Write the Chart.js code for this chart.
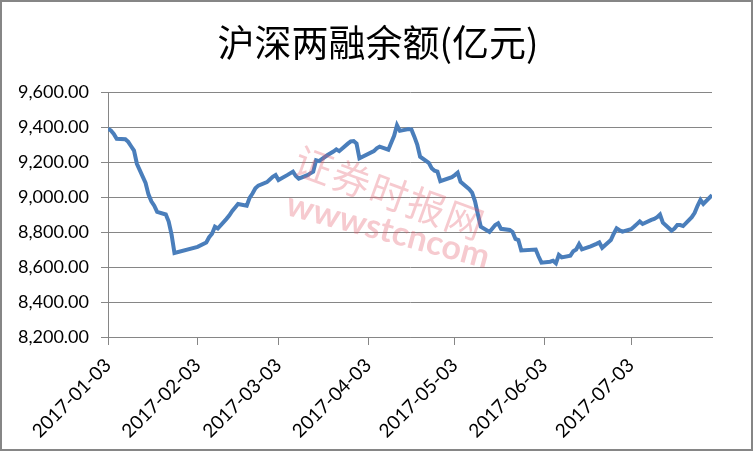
<!DOCTYPE html>
<html>
<head>
<meta charset="utf-8">
<script src="https://cdn.jsdelivr.net/npm/chart.js@4/dist/chart.umd.min.js"></script>
<style>
  body { margin: 0; background: #fff; }
  canvas { display: block; }
</style>
</head>
<body>
<canvas id="chart" width="753" height="451"></canvas>
<script>
var title_text = "沪深两融余额(亿元)";

// trading days and balance (亿元)
var dates = [
  "2017-01-03","2017-01-04","2017-01-05","2017-01-06","2017-01-09","2017-01-10","2017-01-11","2017-01-12","2017-01-13",
  "2017-01-16","2017-01-17","2017-01-18","2017-01-19","2017-01-20","2017-01-23","2017-01-24","2017-01-25","2017-01-26",
  "2017-02-03","2017-02-06","2017-02-07","2017-02-08","2017-02-09","2017-02-10","2017-02-13","2017-02-14","2017-02-15",
  "2017-02-16","2017-02-17","2017-02-20","2017-02-21","2017-02-22","2017-02-23","2017-02-24","2017-02-27","2017-02-28",
  "2017-03-01","2017-03-02","2017-03-03","2017-03-06","2017-03-07","2017-03-08","2017-03-09","2017-03-10","2017-03-13",
  "2017-03-14","2017-03-15","2017-03-16","2017-03-17","2017-03-20","2017-03-21","2017-03-22","2017-03-23","2017-03-24",
  "2017-03-27","2017-03-28","2017-03-29","2017-03-30","2017-03-31","2017-04-05","2017-04-06","2017-04-07","2017-04-10",
  "2017-04-11","2017-04-12","2017-04-13","2017-04-14","2017-04-17","2017-04-18","2017-04-19","2017-04-20","2017-04-21",
  "2017-04-24","2017-04-25","2017-04-26","2017-04-27","2017-04-28","2017-05-02","2017-05-03","2017-05-04","2017-05-05",
  "2017-05-08","2017-05-09","2017-05-10","2017-05-11","2017-05-12","2017-05-15","2017-05-16","2017-05-17","2017-05-18",
  "2017-05-19","2017-05-22","2017-05-23","2017-05-24","2017-05-25","2017-05-26","2017-05-31","2017-06-01","2017-06-02",
  "2017-06-05","2017-06-06","2017-06-07","2017-06-08","2017-06-09","2017-06-12","2017-06-13","2017-06-14","2017-06-15",
  "2017-06-16","2017-06-19","2017-06-20","2017-06-21","2017-06-22","2017-06-23","2017-06-26","2017-06-27","2017-06-28",
  "2017-06-29","2017-06-30","2017-07-03","2017-07-04","2017-07-05","2017-07-06","2017-07-07","2017-07-10","2017-07-11",
  "2017-07-12","2017-07-13","2017-07-14","2017-07-17","2017-07-18","2017-07-19","2017-07-20","2017-07-21","2017-07-24",
  "2017-07-25","2017-07-26","2017-07-27","2017-07-28","2017-07-31"
];
var balance = [
  9390,9380,9360,9333,9330,9315,9290,9265,9190,
  9080,9015,8975,8950,8915,8900,8860,8785,8680,
  8715,8740,8770,8790,8830,8820,8875,8895,8920,
  8940,8960,8950,8995,9020,9050,9065,9085,9100,
  9115,9125,9097,9125,9135,9145,9120,9105,9125,
  9135,9145,9210,9205,9240,9250,9260,9272,9262,
  9305,9318,9320,9305,9221,9262,9278,9288,9270,
  9310,9350,9410,9378,9388,9385,9345,9300,9230,
  9195,9165,9150,9145,9090,9113,9125,9139,9087,
  9045,9025,8975,8900,8830,8800,8820,8840,8850,
  8818,8812,8800,8760,8754,8695,8700,8660,8625,
  8630,8636,8621,8669,8655,8665,8690,8700,8731,
  8701,8718,8725,8732,8740,8710,8754,8790,8821,
  8810,8802,8816,8830,8845,8860,8846,8869,8875,
  8885,8900,8853,8808,8820,8840,8840,8834,8885,
  8910,8950,8983,8960,9011
];

var tick_dates = ["2017-01-03","2017-02-03","2017-03-03","2017-04-03","2017-05-03","2017-06-03","2017-07-03"];
var y_min = 8200;
var y_max = 9600;
var y_step = 200;

var watermark_cn = "证券时报网";
var watermark_en = "wwwstcncom";

var DAY = 24 * 3600 * 1000;
var start = Date.parse(dates[0]);
function dayOf(s) {
  return Math.round((Date.parse(s) - start) / DAY);
}

var points = dates.map(function(d, i) {
  return { x: dayOf(d), y: balance[i] };
});
var tick_days = tick_dates.map(dayOf);

// title, watermark and border drawn on the canvas
var extras = {
  id: "extras",
  afterDraw: function(chart) {
    var ctx = chart.ctx;
    ctx.save();
    ctx.textAlign = "center";
    ctx.textBaseline = "middle";

    ctx.fillStyle = "#000";
    ctx.font = "37px 'Noto Sans CJK SC'";
    ctx.fillText(title_text, 378, 43);

    ctx.fillStyle = "rgba(228,90,105,0.32)";
    ctx.save();
    ctx.translate(390, 193);
    ctx.rotate(20 * Math.PI / 180);
    ctx.font = "38px 'Noto Sans CJK SC'";
    ctx.letterSpacing = "2px";
    ctx.fillText(watermark_cn, 0, 0);
    ctx.restore();

    ctx.save();
    ctx.translate(388, 231);
    ctx.rotate(15 * Math.PI / 180);
    ctx.font = "bold 34px Lato";
    ctx.fillText(watermark_en, 0, 0);
    ctx.restore();

    ctx.strokeStyle = "#868686";
    ctx.lineWidth = 2;
    ctx.strokeRect(1, 1, chart.width - 2, chart.height - 2);
    ctx.restore();
  }
};

var ctx = document.getElementById("chart").getContext("2d");
var chart = new Chart(ctx, {
  type: "line",
  data: {
    datasets: [{
      data: points,
      borderColor: "#4a7ebb",
      borderWidth: 4,
      pointRadius: 0,
      tension: 0,
      fill: false
    }]
  },
  options: {
    responsive: false,
    animation: false,
    events: [],
    layout: { padding: { left: 0, right: 41, top: 92, bottom: 0 } },
    plugins: {
      legend: { display: false },
      tooltip: { enabled: false },
      title: { display: false }
    },
    scales: {
      x: {
        type: "linear",
        min: 0,
        max: dayOf(dates[dates.length - 1]),
        afterBuildTicks: function(axis) {
          axis.ticks = tick_days.map(function(v) { return { value: v }; });
        },
        afterFit: function(axis) { axis.height = 114; },
        grid: { drawOnChartArea: false, drawTicks: true, tickLength: 8, color: "#868686" },
        border: { color: "#868686" },
        ticks: {
          autoSkip: false,
          minRotation: 45,
          maxRotation: 45,
          padding: 9,
          color: "#000",
          font: { family: "Lato", size: 19 },
          callback: function(v) {
            var i = tick_days.indexOf(v);
            return i >= 0 ? tick_dates[i] : "";
          }
        }
      },
      y: {
        min: y_min,
        max: y_max,
        afterFit: function(axis) { axis.width = 108; },
        grid: { color: "#868686", tickLength: 7 },
        border: { color: "#868686" },
        ticks: {
          stepSize: y_step,
          color: "#000",
          padding: 12,
          font: { family: "Lato", size: 18 },
          callback: function(v) {
            return v.toLocaleString("en-US", { minimumFractionDigits: 2, maximumFractionDigits: 2 });
          }
        }
      }
    }
  },
  plugins: [extras]
});
</script>
</body>
</html>
